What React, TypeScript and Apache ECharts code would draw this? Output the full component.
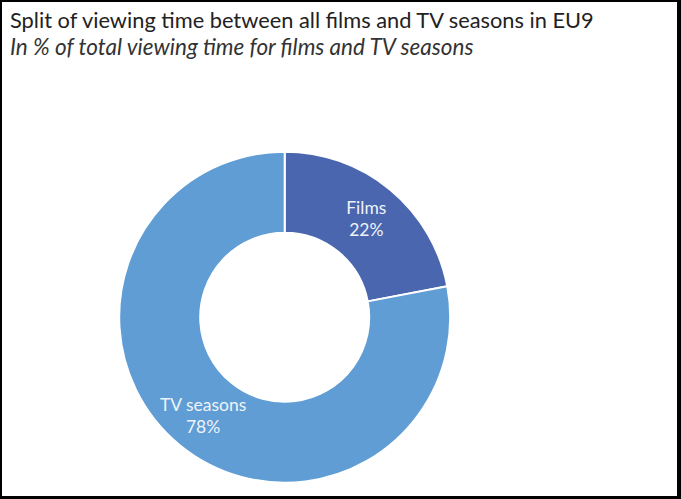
import React, { useEffect, useRef } from "react";
import * as echarts from "echarts";

const categories = ["Films", "TV seasons"];
const shares = [22, 78];
const colors = ["#4A66AE", "#5F9DD4"];
const titleText = "Split of viewing time between all films and TV seasons in EU9";
const subtitleText = "In % of total viewing time for films and TV seasons";

export default function App() {
  const ref = useRef<HTMLDivElement>(null);
  useEffect(() => {
    document.body.style.margin = "0";
    const chart = echarts.init(ref.current!, null, { renderer: "svg" });
    chart.setOption({
      animation: false,
      backgroundColor: "#ffffff",
      graphic: [
        { type: "rect", shape: { x: 0, y: 0, width: 681, height: 2 }, style: { fill: "#000" } },
        { type: "rect", shape: { x: 0, y: 496, width: 681, height: 3 }, style: { fill: "#000" } },
        { type: "rect", shape: { x: 0, y: 0, width: 2, height: 499 }, style: { fill: "#000" } },
        { type: "rect", shape: { x: 677, y: 0, width: 4, height: 499 }, style: { fill: "#000" } },
        {
          type: "text",
          x: 10,
          y: 19.3,
          style: {
            text: titleText,
            fontFamily: "Lato",
            fontSize: 21.8,
            fill: "#222222",
            verticalAlign: "middle",
            align: "left",
          },
        },
        {
          type: "text",
          x: 10,
          y: 46,
          style: {
            text: subtitleText,
            fontFamily: "Lato",
            fontSize: 22.5,
            fontStyle: "italic",
            fill: "#333333",
            verticalAlign: "middle",
            align: "left",
          },
        },
      ],
      series: [
        {
          type: "pie",
          center: [284.7, 317.2],
          radius: [84.5, 165.5],
          startAngle: 90,
          clockwise: true,
          avoidLabelOverlap: false,
          itemStyle: { borderColor: "#ffffff", borderWidth: 2 },
          label: {
            position: "inside",
            formatter: "{b}\n{c}%",
            fontFamily: "Lato",
            fontSize: 17.5,
            lineHeight: 22,
            color: "#EEF3FA",
          },
          labelLine: { show: false },
          data: categories.map((name, i) => ({
            name,
            value: shares[i],
            itemStyle: { color: colors[i] },
          })),
        },
      ],
    });
    return () => chart.dispose();
  }, []);
  return <div ref={ref} style={{ width: 681, height: 499, position: "absolute", left: 0, top: 0 }} />;
}
